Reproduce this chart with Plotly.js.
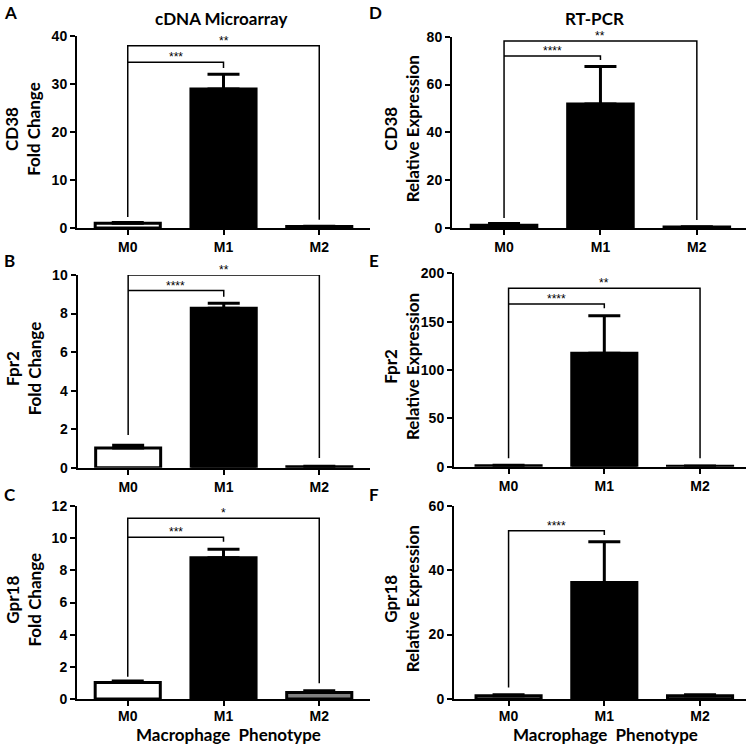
<!DOCTYPE html>
<html>
<head>
<meta charset="utf-8">
<script src="https://cdn.plot.ly/plotly-3.0.1.min.js"></script>
<style>html,body{margin:0;padding:0;background:#fff;}#chart{width:747px;height:746px;}</style>
</head>
<body>
<div id="chart"></div>
<script>
// ---- data ----
const categories = ['M0', 'M1', 'M2'];
const panelLetters = ['A', 'B', 'C', 'D', 'E', 'F'];
const genes = ['CD38', 'Fpr2', 'Gpr18'];
const columnTitles = ['cDNA Microarray', 'RT-PCR'];
const yUnits = ['Fold Change', 'Relative Expression'];
const xTitle = 'Macrophage\u00A0 Phenotype';

// cDNA microarray (fold change)
const valA = [1.0, 28.9, 0.3];   const errA = [0.12, 3.1, 0.06];
const valB = [1.02, 8.27, 0.05]; const errB = [0.15, 0.27, 0.02];
const valC = [1.02, 8.79, 0.41]; const errC = [0.10, 0.52, 0.11];
// RT-PCR (relative expression)
const valD = [1.1, 51.9, 0.4];   const errD = [0.8, 15.6, 0.1];
const valE = [1.0, 117.3, 0.4];  const errE = [0.6, 38.9, 0.2];
const valF = [1.0, 36.2, 1.0];   const errF = [0.3, 12.6, 0.3];

const yMax = [40, 10, 12, 80, 200, 60];
const yStep = [10, 2, 2, 20, 50, 20];

// significance brackets: [from, to, height, left leg bottom, right leg bottom, label]
const bracketsA = [[0, 2, 37.9, 2.3, 1.7, '**'], [0, 1, 34.5, 34.5, 33.3, '***']];
const bracketsB = [[0, 2, 10.0, 1.7, 0.5, '**'], [0, 1, 9.19, 9.19, 8.87, '****']];
const bracketsC = [[0, 2, 11.24, 1.39, 0.98, '*'], [0, 1, 10.05, 10.05, 9.78, '***']];
const bracketsD = [[0, 2, 78.2, 4.2, 3.3, '**'], [0, 1, 71.9, 71.9, 70.3, '****']];
const bracketsE = [[0, 2, 184.6, 8.7, 8.7, '**'], [0, 1, 168.3, 168.3, 163.9, '****']];
const bracketsF = [[0, 1, 52.2, 3.6, 50.9, '****']];

// ---- build ----
const values = [valA, valB, valC, valD, valE, valF];
const errors = [errA, errB, errC, errD, errE, errF];
const brackets = [bracketsA, bracketsB, bracketsC, bracketsD, bracketsE, bracketsF];

const W = 747, H = 746;
const px = x => x / W;
const py = y => 1 - y / H;

// pixel geometry of each plot area [left, right, top, bottom]
const geom = [
  [77, 370, 35.7, 228],
  [77.5, 370, 275, 467.7],
  [77, 370, 506, 699],
  [452, 746, 36.7, 228],
  [454, 746, 273.3, 466.7],
  [454, 746, 505.7, 699]
];
const xRanges = [[-0.53, 2.53], [-0.53, 2.53], [-0.53, 2.53], [-0.54, 2.51], [-0.57, 2.48], [-0.57, 2.48]];

const tickFont = {family: 'Liberation Sans, Arial, sans-serif', size: 14, color: '#000', weight: 'bold'};
const titleFont = {family: 'Lato, sans-serif', size: 17, color: '#000', weight: 'bold'};

const data = [];
const layout = {
  width: W, height: H,
  margin: {l: 0, r: 0, t: 0, b: 0},
  paper_bgcolor: '#fff', plot_bgcolor: 'rgba(0,0,0,0)',
  showlegend: false,
  annotations: [],
  shapes: []
};

for (let i = 0; i < 6; i++) {
  const n = i + 1;
  const xa = 'x' + (n === 1 ? '' : n), ya = 'y' + (n === 1 ? '' : n);
  const g = geom[i];
  const row = i % 3;
  layout['xaxis' + (n === 1 ? '' : n)] = {
    domain: [px(g[0]), px(g[1])], range: xRanges[i], anchor: ya,
    type: 'category', showline: true, linecolor: '#000', linewidth: 2,
    ticks: 'outside', ticklen: 5, tickwidth: 2, tickcolor: '#000',
    ticklabelstandoff: row === 2 ? -2 : 0,
    showgrid: false, zeroline: false, tickfont: tickFont, fixedrange: true
  };
  layout['yaxis' + (n === 1 ? '' : n)] = {
    domain: [py(g[3]), py(g[2])], range: [0, yMax[i]], anchor: xa,
    showline: true, linecolor: '#000', linewidth: 2,
    ticks: 'outside', ticklen: 5, tickwidth: 2, tickcolor: '#000',
    dtick: yStep[i], tick0: 0, showgrid: false, zeroline: false,
    tickfont: tickFont, fixedrange: true
  };
  data.push({
    type: 'bar', x: categories, y: values[i], xaxis: xa, yaxis: ya,
    width: 0.68,
    marker: {color: ['#ffffff', '#000000', '#808080'], line: {color: '#000', width: 3}},
    error_y: {type: 'data', symmetric: false, array: errors[i], arrayminus: [0, 0, 0],
              color: '#000', thickness: 3, width: 16},
    hoverinfo: 'skip'
  });
  brackets[i].forEach(b => {
    const [a0, a1, h, l0, l1, lab] = b;
    data.push({
      type: 'scatter', mode: 'lines', xaxis: xa, yaxis: ya,
      x: [categories[a0], categories[a0], categories[a1], categories[a1]],
      y: [l0, h, h, l1],
      line: {color: '#000', width: 1.5}, cliponaxis: false, hoverinfo: 'skip'
    });
    layout.annotations.push({
      xref: xa, yref: ya, x: (a0 + a1) / 2, y: h, text: lab, showarrow: false,
      xanchor: 'center', yanchor: 'bottom', yshift: -4,
      font: {family: 'Liberation Sans, Arial, sans-serif', size: 12, color: '#000'}
    });
  });
  // y title (gene + unit)
  const col = i < 3 ? 0 : 1;
  layout.annotations.push({
    xref: 'paper', yref: 'paper', x: px(col === 0 ? 23 : 401), y: py((g[2] + g[3]) / 2 - 3),
    text: genes[row] + '<br>' + yUnits[col], textangle: -90, showarrow: false,
    xanchor: 'center', yanchor: 'middle', font: titleFont
  });
  // panel letter
  const letterX = col === 0 ? 2 : 367;
  const letterY = [0, 248, 482][row];
  layout.annotations.push({
    xref: 'paper', yref: 'paper', x: px(letterX), y: py(letterY), text: panelLetters[i],
    showarrow: false, xanchor: 'left', yanchor: 'top',
    font: {family: 'Lato, sans-serif', size: 17, color: '#000', weight: 'bold'}
  });
}
// column titles
layout.annotations.push({xref: 'paper', yref: 'paper', x: px(221), y: py(18), text: columnTitles[0],
  showarrow: false, xanchor: 'center', yanchor: 'middle', font: titleFont});
layout.annotations.push({xref: 'paper', yref: 'paper', x: px(594), y: py(18), text: columnTitles[1],
  showarrow: false, xanchor: 'center', yanchor: 'middle', font: titleFont});
// x titles
layout.annotations.push({xref: 'paper', yref: 'paper', x: px(228), y: 0, text: xTitle,
  showarrow: false, xanchor: 'center', yanchor: 'bottom', borderpad: 0, font: titleFont});
layout.annotations.push({xref: 'paper', yref: 'paper', x: px(605), y: 0, text: xTitle,
  showarrow: false, xanchor: 'center', yanchor: 'bottom', borderpad: 0, font: titleFont});

Plotly.newPlot('chart', data, layout, {staticPlot: true, displayModeBar: false});
</script>
</body>
</html>
